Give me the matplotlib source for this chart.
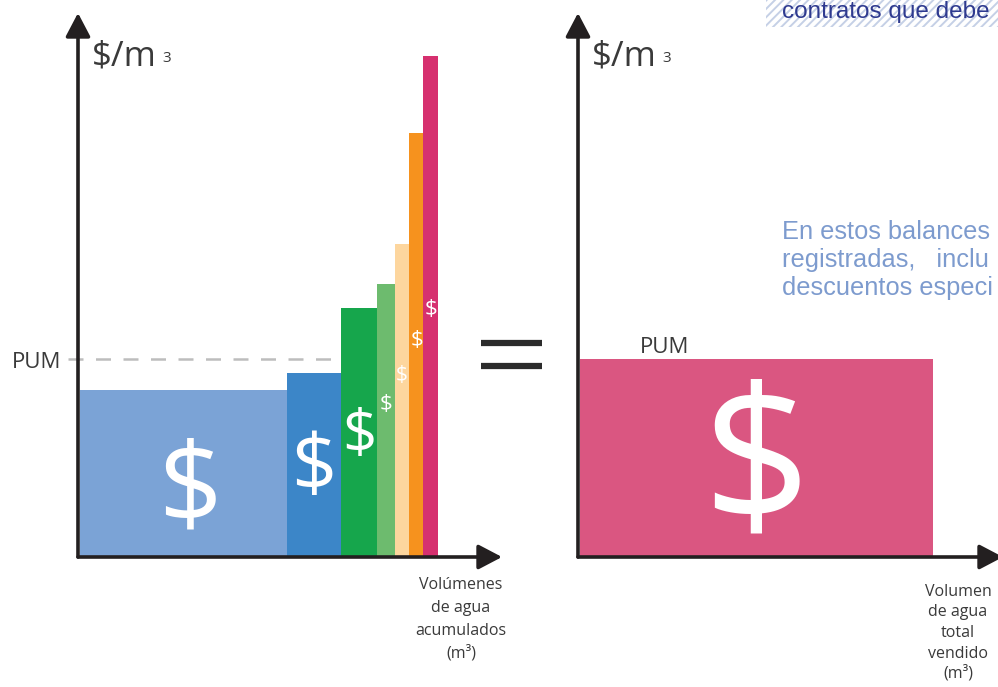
import matplotlib
matplotlib.use("Agg")
import matplotlib.pyplot as plt
from matplotlib.patches import Rectangle
import numpy as np

# ---------------- data ----------------
# left panel: accumulated water volumes (width) and price per m3 (height)
volumes = [20.7, 5.4, 3.6, 1.8, 1.4, 1.4, 1.5]
prices = [16.7, 18.4, 24.9, 27.3, 31.3, 42.4, 50.1]
pum = 19.8          # precio unitario medio
total_sold = 35.3   # right panel: total volume sold

y_label = "$/m"
left_xlabel = ["Volúmenes", "de agua", "acumulados", "(m³)"]
right_xlabel = ["Volumen", "de agua", "total", "vendido", "(m³)"]
top_text = ["contratos que debe"]
side_text = ["En estos balances", "registradas,   inclu", "descuentos especi"]

# ---------------- styles ----------------
bar_colors = ["#7BA3D6", "#3C86C8", "#16A64C", "#6DBB6E", "#FDD69E", "#F6921E", "#D6306F"]
pink = "#DA5681"
dollar_sizes = [80, 57, 43, 16, 15, 16, 16]
dollar_xfrac = [0.53, 0.5, 0.5, 0.5, 0.5, 0.6, 0.5]
dollar_yfrac = [0.38, 0.47, 0.48, 0.56, 0.58, 0.51, 0.495]
axis_col = "#231F20"
txt_col = "#3A3A3A"

W, H = 998, 687
fig = plt.figure(figsize=(W / 100, H / 100), dpi=100)
fig.patch.set_facecolor("white")

bg = fig.add_axes([0, 0, 1, 1])
bg.set_xlim(0, W)
bg.set_ylim(H, 0)
bg.axis("off")

def make_ax(x0, x1, yb=557, yt=13):
    ax = fig.add_axes([x0 / W, (H - yb) / H, (x1 - x0) / W, (yb - yt) / H])
    ax.set_xlim(0, (x1 - x0) / 10)
    ax.set_ylim(0, (yb - yt) / 10)
    ax.axis("off")
    ax.patch.set_visible(False)
    for xy in [(0, 1), (1, 0)]:
        ax.annotate("", xy=xy, xytext=(0, 0), xycoords="axes fraction",
                    textcoords="axes fraction", annotation_clip=False,
                    arrowprops=dict(arrowstyle="-|>,head_length=0.8,head_width=0.42",
                                    mutation_scale=18, lw=2.6, color=axis_col,
                                    shrinkA=0, shrinkB=0), zorder=5)
    return ax

dollar_font = dict(family="Open Sans", weight="normal", color="white")

# ---------------- left panel ----------------
axL = make_ax(78, 502)
offset = 0.2
lefts = offset + np.concatenate([[0], np.cumsum(volumes)[:-1]])
axL.bar(lefts, prices, width=volumes, align="edge", color=bar_colors, linewidth=0, zorder=2)
for l, w, h, s, fx, fy in zip(lefts, volumes, prices, dollar_sizes, dollar_xfrac, dollar_yfrac):
    axL.text(l + w * fx, h * fy, "$", fontsize=s, ha="center", va="center", zorder=3, **dollar_font)
axL.plot([-1.0, lefts[2]], [pum, pum], color="#BDBDBD", lw=1.8, dashes=(6, 5), clip_on=False, zorder=1)

# ---------------- right panel ----------------
axR = make_ax(578, 1003)
axR.bar(offset, pum, width=total_sold, align="edge", color=pink, linewidth=0, zorder=2)
axR.text(offset + total_sold / 2, pum * 0.43, "$", fontsize=136, ha="center", va="center", zorder=3, **dollar_font)

# ---------------- texts ----------------
lab = dict(family="Open Sans", color=txt_col)
for x in (92, 592):
    bg.text(x, 66, y_label, fontsize=25, ha="left", va="baseline", **lab)
    bg.text(x + 70, 62, "3", fontsize=11, ha="left", va="baseline", **lab)
bg.text(12, 368, "PUM", fontsize=16, ha="left", va="baseline", **lab)
bg.text(640, 353, "PUM", fontsize=16, ha="left", va="baseline", **lab)

for i, s in enumerate(left_xlabel):
    bg.text(461, 589 + 23 * i, s, fontsize=11.5, ha="center", va="baseline", **lab)
for i, s in enumerate(right_xlabel):
    bg.text(958, 596 + 20.5 * i, s, fontsize=11.5, ha="center", va="baseline", **lab)

# "=" sign
for yy in (343, 366):
    bg.plot([481, 542], [yy, yy], color="#2B2B2B", lw=4.5, solid_capstyle="butt")

# top right hatched note
plt.rcParams["hatch.linewidth"] = 1.4
bg.add_patch(Rectangle((766, -2), 240, 29, facecolor="white", edgecolor="#C5D0E6",
                       hatch="////", linewidth=0))
bg.text(782, 18, top_text[0], fontsize=17.5, family="Liberation Sans", color="#2E3A8F",
        ha="left", va="baseline")
for i, s in enumerate(side_text):
    bg.text(782, 239 + 28 * i, s, fontsize=18.3, family="Liberation Sans", color="#7D9BCE",
            ha="left", va="baseline")

fig.savefig("out.png", dpi=100)
